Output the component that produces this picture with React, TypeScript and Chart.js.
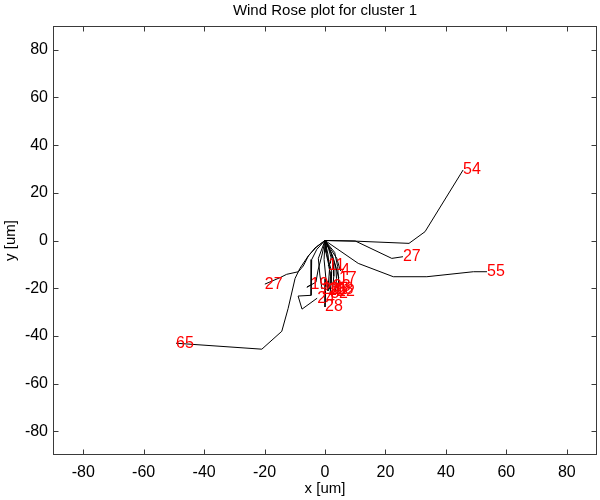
import React, { useEffect, useRef } from "react";
import { Chart, registerables } from "chart.js";

Chart.register(...registerables);

const FONT = 'Arial, "Liberation Sans", sans-serif';

const chartTitle = "Wind Rose plot for cluster 1";
const xAxisTitle = "x [um]";
const yAxisTitle = "y [um]";
const xTicks = [-80, -60, -40, -20, 0, 20, 40, 60, 80];
const yTicks = [-80, -60, -40, -20, 0, 20, 40, 60, 80];

// Long tracks
const t54X = [0, 10.6, 27.8, 33.1, 45.7];
const t54Y = [0, -0.3, -1.2, 3.7, 29.6];
const t27rX = [0, 10.0, 22.1, 25.8];
const t27rY = [0, -0.2, -7.5, -6.8];
const t55X = [0, 11.0, 22.6, 33.7, 49.1, 53.6];
const t55Y = [0, -9.6, -15.2, -15.2, -13.1, -13.1];
const t65X = [0, -2.7, -5.5, -8.3, -9.9, -12.2, -14.3, -20.9, -49.3];
const t65Y = [0, -2.6, -6.4, -11.7, -15.9, -28.5, -38.1, -45.6, -43.1];
const t27lX = [0, -3.3, -5.5, -7.2, -8.8, -12.7, -14.9, -19.9];
const t27lY = [0, -3.1, -6.5, -10.7, -13.1, -14.2, -15.6, -18.3];
// Short tracks near the origin
const t24X = [0, -2.7, -4.4, -4.6, -8.9, -7.6, -2.6];
const t24Y = [0, -3.7, -8.0, -23.0, -23.3, -28.8, -24.2];
const t19X = [0, -1.0, -2.3, -3.0, -6.0, -4.8];
const t19Y = [0, -6.1, -12.4, -17.5, -19.6, -18.7];
const t11X = [0, 1.2, 2.0, 1.8, 1.0];
const t11Y = [0, -3.5, -7.0, -9.5, -10.7];
const t4X = [0, 3.9, 5.0, 5.3];
const t4Y = [0, -7.5, -12.4, -12.8];
const t17X = [0, 1.8, 3.0, 4.0, 4.6];
const t17Y = [0, -4.5, -9.0, -13.0, -15.8];
const t20X = [0, -2.2, -1.7, -1.0];
const t20Y = [0, -7.5, -14.5, -20.4];
const t26X = [0, 1.0, 1.5, 1.2, 1.0];
const t26Y = [0, -6.0, -12.0, -17.0, -21.2];
const t23X = [0, 2.0, 2.8, 2.9, 2.6];
const t23Y = [0, -5.0, -10.0, -15.0, -19.5];
const t32X = [0, 0.8, 2.2, 2.0, 1.7];
const t32Y = [0, -7.0, -13.0, -18.0, -22.1];
const t22X = [0, 3.2, 4.2, 4.5, 4.0];
const t22Y = [0, -5.0, -11.0, -17.0, -21.6];
const t28X = [0, -0.3, 0.3, 0.0, 0.0];
const t28Y = [0, -8.0, -16.0, -23.0, -27.9];
const t21X = [0, 0.3, 1.2, 1.8, 1.5];
const t21Y = [0, -5.0, -10.0, -15.0, -20.5];
const t18X = [0, 2.4, 3.6, 3.8, 3.5];
const t18Y = [0, -6.0, -11.0, -16.0, -20.8];

const trackXs = [t54X, t27rX, t55X, t65X, t27lX, t24X, t19X, t11X, t4X, t17X, t20X, t26X, t23X, t32X, t22X, t28X, t21X, t18X];
const trackYs = [t54Y, t27rY, t55Y, t65Y, t27lY, t24Y, t19Y, t11Y, t4Y, t17Y, t20Y, t26Y, t23Y, t32Y, t22Y, t28Y, t21Y, t18Y];
const trackLabels = ["54", "27", "55", "65", "27", "24", "19", "11", "4", "17", "20", "26", "23", "32", "22", "28", "21", "18"];

const decorPlugin = {
  id: "decor",
  afterDatasetsDraw(chart: any) {
    const { ctx, chartArea: a, scales } = chart;
    const xs = scales.x;
    const ys = scales.y;
    ctx.save();
    // end labels
    ctx.fillStyle = "#ff0000";
    ctx.font = `16px ${FONT}`;
    ctx.textAlign = "left";
    ctx.textBaseline = "middle";
    chart.data.datasets.forEach((ds: any) => {
      const last = ds.data[ds.data.length - 1];
      ctx.fillText(ds.label, xs.getPixelForValue(last.x), ys.getPixelForValue(last.y));
    });
    // box
    ctx.strokeStyle = "#3a3a3a";
    ctx.lineWidth = 1;
    const L = Math.round(a.left) + 0.5;
    const R = Math.round(a.right) - 0.5;
    const T = Math.round(a.top) + 0.5;
    const B = Math.round(a.bottom) - 0.5;
    ctx.strokeRect(L, T, R - L, B - T);
    const tl = 5;
    ctx.beginPath();
    xTicks.forEach((v) => {
      const px = Math.round(xs.getPixelForValue(v)) + 0.5;
      ctx.moveTo(px, B);
      ctx.lineTo(px, B - tl);
      ctx.moveTo(px, T);
      ctx.lineTo(px, T + tl);
    });
    yTicks.forEach((v) => {
      const py = Math.round(ys.getPixelForValue(v)) + 0.5;
      ctx.moveTo(L, py);
      ctx.lineTo(L + tl, py);
      ctx.moveTo(R, py);
      ctx.lineTo(R - tl, py);
    });
    ctx.stroke();
    // title
    ctx.fillStyle = "#000";
    ctx.font = `15px ${FONT}`;
    ctx.textAlign = "center";
    ctx.textBaseline = "middle";
    ctx.fillText(chartTitle, (a.left + a.right) / 2, 11);
    ctx.restore();
  },
};

export default function App() {
  const ref = useRef<HTMLCanvasElement>(null);
  useEffect(() => {
    document.body.style.margin = "0";
    const canvas = ref.current;
    if (!canvas) return;
    const datasets = trackXs.map((xs, i) => ({
      label: trackLabels[i],
      data: xs.map((x, j) => ({ x, y: trackYs[i][j] })),
      borderColor: "#000",
      borderWidth: 1,
      pointRadius: 0,
      showLine: true,
      fill: false,
      tension: 0,
    }));
    const chart = new Chart(canvas, {
      type: "scatter",
      data: { datasets },
      options: {
        animation: false,
        responsive: false,
        maintainAspectRatio: false,
        layout: { padding: { top: 26, right: 3, left: 0, bottom: 0 } },
        plugins: {
          legend: { display: false },
          tooltip: { enabled: false },
          title: { display: false },
        },
        scales: {
          x: {
            type: "linear",
            min: -90,
            max: 90,
            grid: { display: false, drawTicks: false },
            border: { display: false },
            ticks: { font: { size: 16, family: FONT }, color: "#000", padding: 8, autoSkip: false, maxRotation: 0 },
            afterBuildTicks: (s: any) => {
              s.ticks = xTicks.map((v) => ({ value: v }));
            },
            afterFit: (s: any) => {
              s.height = 45;
            },
            title: { display: true, text: xAxisTitle, font: { size: 15, family: FONT }, color: "#000", padding: { top: 0, bottom: 2 } },
          },
          y: {
            type: "linear",
            min: -90,
            max: 90,
            grid: { display: false, drawTicks: false },
            border: { display: false },
            ticks: { font: { size: 16, family: FONT }, color: "#000", padding: 5, autoSkip: false },
            afterBuildTicks: (s: any) => {
              s.ticks = yTicks.map((v) => ({ value: v }));
            },
            afterFit: (s: any) => {
              s.width = 53;
            },
            title: { display: true, text: yAxisTitle, font: { size: 15, family: FONT }, color: "#000", padding: { top: 2, bottom: 0 } },
          },
        },
      } as any,
      plugins: [decorPlugin],
    });
    return () => chart.destroy();
  }, []);
  return <canvas ref={ref} width={600} height={500} style={{ display: "block", width: 600, height: 500 }} />;
}
